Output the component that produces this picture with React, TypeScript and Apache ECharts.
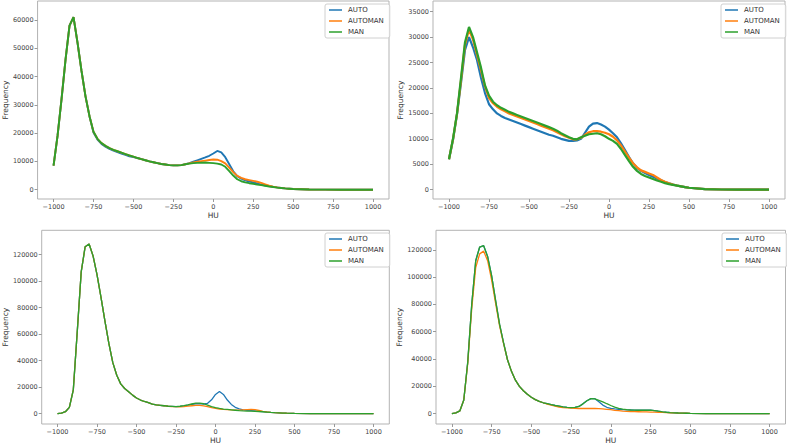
import React, { useEffect, useRef } from "react";
import * as echarts from "echarts";

// HU bin positions (shared by all panels)
const HU = [
  -1000, -975, -950, -925, -900, -875, -850, -825, -800, -775,
  -750, -725, -700, -675, -650, -625, -600, -575, -550, -525,
  -500, -475, -450, -425, -400, -375, -350, -325, -300, -275,
  -250, -225, -200, -175, -150, -125, -100, -75, -50, -25,
  0, 25, 50, 75, 100, 125, 150, 175, 200, 225,
  250, 275, 300, 325, 350, 375, 400, 425, 450, 475,
  500, 600, 700, 800, 900, 1000,
];

const X_TICKS = [-1000, -750, -500, -250, 0, 250, 500, 750, 1000];
const Y_TICKS_1 = [0, 10000, 20000, 30000, 40000, 50000, 60000];
const Y_TICKS_2 = [0, 5000, 10000, 15000, 20000, 25000, 30000, 35000];
const Y_TICKS_3 = [0, 20000, 40000, 60000, 80000, 100000, 120000];
const Y_TICKS_4 = [0, 20000, 40000, 60000, 80000, 100000, 120000];

const SERIES_NAMES = ["AUTO", "AUTOMAN", "MAN"];

// Panel 1 (top-left)
const p1Auto = [
  8500, 19000, 32000, 46000, 58000, 61000, 52000, 42000, 33000, 26000,
  20200, 17700, 16200, 15200, 14400, 13800, 13300, 12800, 12300, 11800,
  11500, 11200, 10800, 10400, 10000, 9700, 9400, 9100, 8900, 8700,
  8600, 8600, 8700, 9000, 9400, 9900, 10400, 10900, 11400, 12000,
  12800, 13700, 13200, 11500, 9000, 6500, 4800, 3900, 3300, 2900,
  2600, 2200, 1800, 1500, 1250, 1000, 800, 600, 450, 350,
  250, 80, 20, 5, 0, 0,
];
const p1Automan = [
  8500, 19000, 32000, 46000, 58000, 61000, 52000, 42000, 33000, 26000,
  20500, 18000, 16500, 15500, 14700, 14100, 13600, 13100, 12600, 12100,
  11700, 11200, 10800, 10400, 10000, 9700, 9400, 9100, 8900, 8700,
  8600, 8600, 8700, 9000, 9300, 9600, 9900, 10100, 10300, 10500,
  10700, 10600, 10100, 9300, 7800, 6200, 4900, 4200, 3700, 3400,
  3100, 2800, 2400, 1900, 1400, 1050, 800, 600, 450, 350,
  250, 80, 20, 5, 0, 0,
];
const p1Man = [
  8500, 19000, 32000, 46000, 58000, 61000, 52000, 42000, 33000, 26000,
  20500, 18000, 16500, 15500, 14700, 14100, 13600, 13100, 12600, 12100,
  11700, 11200, 10800, 10400, 10000, 9700, 9400, 9100, 8900, 8700,
  8600, 8600, 8700, 9000, 9200, 9400, 9500, 9550, 9600, 9500,
  9400, 9200, 8900, 8100, 6600, 5000, 3700, 3000, 2600, 2300,
  2100, 1800, 1600, 1400, 1150, 950, 750, 600, 450, 350,
  250, 80, 20, 5, 0, 0,
];

// Panel 2 (top-right)
const p2Auto = [
  6000, 9800, 14800, 21000, 27500, 30000, 28000, 25500, 22000, 19000,
  16800, 15800, 15000, 14500, 14100, 13800, 13500, 13200, 12900, 12600,
  12300, 12000, 11700, 11400, 11100, 10800, 10600, 10300, 10000, 9800,
  9600, 9600, 9700, 10000, 11200, 12400, 13000, 13100, 12800, 12400,
  11800, 11100, 10300, 9100, 7800, 6400, 5200, 4300, 3700, 3300,
  2900, 2550, 2200, 1850, 1500, 1250, 1000, 820, 650, 500,
  380, 120, 40, 10, 0, 0,
];
const p2Automan = [
  6000, 9900, 14900, 21500, 28500, 31500, 29500, 26500, 23500, 20300,
  18000, 17000, 16300, 15800, 15400, 15000, 14700, 14400, 14100, 13800,
  13500, 13200, 12900, 12600, 12300, 12000, 11700, 11300, 10900, 10500,
  10200, 9900, 9900, 10200, 10800, 11300, 11500, 11500, 11400, 11200,
  10900, 10400, 9700, 8700, 7500, 6300, 5200, 4400, 3800, 3500,
  3200, 2900, 2400, 1900, 1550, 1250, 1000, 820, 650, 500,
  380, 120, 40, 10, 0, 0,
];
const p2Man = [
  6000, 10000, 15000, 22000, 29000, 32000, 30000, 27000, 24000, 20500,
  18500, 17300, 16600, 16100, 15700, 15300, 15000, 14700, 14400, 14100,
  13800, 13500, 13200, 12900, 12600, 12300, 12000, 11600, 11100, 10700,
  10300, 10000, 9900, 10300, 10600, 10900, 11000, 11100, 10900, 10500,
  10000, 9600, 9000, 8000, 6800, 5600, 4500, 3700, 3100, 2700,
  2400, 2100, 1800, 1550, 1300, 1100, 950, 800, 650, 500,
  380, 120, 40, 10, 0, 0,
];

// Panel 3 (bottom-left)
const p3Auto = [
  0, 500, 1500, 4800, 18000, 62000, 107000, 126000, 128000, 119000,
  105000, 88000, 70000, 53000, 38500, 29000, 22500, 19000, 16500, 14000,
  11800, 10300, 9200, 8300, 7200, 6600, 6300, 6000, 5600, 5500,
  5400, 5500, 5900, 6400, 7000, 7500, 7600, 7300, 7800, 10500,
  14500, 16700, 14500, 10300, 7000, 4800, 3700, 2900, 2500, 2300,
  2100, 1800, 1500, 1200, 950, 750, 600, 450, 350, 280,
  220, 80, 30, 10, 0, 0,
];
const p3Automan = [
  0, 500, 1500, 4800, 18000, 62000, 107000, 126000, 128000, 119000,
  105000, 88000, 70000, 53000, 38500, 29000, 22500, 19000, 16500, 14000,
  11800, 10300, 9200, 8300, 7200, 6600, 6300, 6000, 5600, 5400,
  5300, 5200, 5400, 5700, 6000, 6300, 6300, 5900, 5300, 4500,
  4000, 3500, 3200, 3000, 2800, 2700, 2700, 2900, 3100, 3200,
  3000, 2400, 1800, 1300, 1000, 750, 600, 450, 350, 280,
  220, 80, 30, 10, 0, 0,
];
const p3Man = [
  0, 500, 1500, 4800, 18000, 62000, 107000, 126000, 128000, 119000,
  105000, 88000, 70000, 53000, 38500, 29000, 22500, 19000, 16500, 14000,
  11800, 10300, 9200, 8300, 7200, 6600, 6300, 6000, 5600, 5500,
  5400, 5600, 6000, 6600, 7300, 7900, 8000, 7500, 6500, 5300,
  4600, 4000, 3500, 3200, 2900, 2600, 2300, 2100, 2000, 1900,
  1800, 1650, 1450, 1200, 950, 750, 600, 450, 350, 280,
  220, 80, 30, 10, 0, 0,
];

// Panel 4 (bottom-right)
const p4Auto = [
  0, 600, 2000, 10000, 38000, 80000, 112000, 122000, 123000, 115000,
  101000, 83000, 65500, 52000, 39500, 31000, 24500, 20000, 16800, 14200,
  12000, 10300, 9000, 8000, 7300, 6600, 6000, 5500, 5000, 4600,
  4400, 4600, 5300, 7200, 9500, 11000, 11000, 8800, 6300, 4700,
  3900, 3500, 3200, 3000, 2800, 2700, 2600, 2500, 2500, 2500,
  2600, 2300, 1800, 1400, 1050, 800, 620, 500, 400, 330,
  270, 100, 40, 15, 0, 0,
];
const p4Automan = [
  0, 600, 2000, 10000, 37000, 77000, 107000, 117000, 119000, 112000,
  98000, 81000, 64500, 51500, 39500, 31000, 24500, 20000, 16800, 14200,
  12000, 10300, 9000, 8000, 7000, 6200, 5500, 4900, 4500, 4200,
  4000, 3900, 3800, 3800, 3800, 3800, 3800, 3700, 3500, 3200,
  2900, 2500, 2200, 1900, 1700, 1600, 1500, 1400, 1300, 1300,
  1200, 1100, 1000, 900, 800, 700, 580, 480, 400, 330,
  270, 100, 40, 15, 0, 0,
];
const p4Man = [
  0, 600, 2000, 10000, 38000, 80000, 112000, 122000, 123000, 115000,
  101000, 83000, 65500, 52000, 39500, 31000, 24500, 20000, 16800, 14200,
  12000, 10300, 9000, 8000, 7300, 6600, 6000, 5500, 5000, 4600,
  4400, 4600, 5300, 7200, 9500, 11000, 10800, 9800, 8700, 7300,
  6000, 4800, 3900, 3300, 2900, 2700, 2600, 2500, 2500, 2500,
  2600, 2300, 1800, 1400, 1050, 800, 620, 500, 400, 330,
  270, 100, 40, 15, 0, 0,
];

const COLORS = ["#1f77b4", "#ff7f0e", "#2ca02c"];
const FONT = "DejaVu Sans";

const PANELS = [
  {
    grid: { left: 36.3, top: 1, width: 352.7, height: 198 },
    yMin: -3290, yMax: 66725, yTicks: Y_TICKS_1,
    data: [p1Auto, p1Automan, p1Man],
    legend: { left: 325, top: 4 },
    yNameGap: 27, lineWidth: 1.9,
  },
  {
    grid: { left: 433, top: 1, width: 352, height: 198 },
    yMin: -1830, yMax: 37100, yTicks: Y_TICKS_2,
    data: [p2Auto, p2Automan, p2Man],
    legend: { left: 721, top: 4 },
    yNameGap: 25, lineWidth: 2.2,
  },
  {
    grid: { left: 39.8, top: 230.3, width: 349.5, height: 199 },
    yMin: -7785, yMax: 138360, yTicks: Y_TICKS_3,
    data: [p3Auto, p3Automan, p3Man],
    legend: { left: 325, top: 233 },
    yNameGap: 31, lineWidth: 1.3,
  },
  {
    grid: { left: 436, top: 230.3, width: 349.5, height: 199 },
    yMin: -7550, yMax: 134250, yTicks: Y_TICKS_4,
    data: [p4Auto, p4Automan, p4Man],
    legend: { left: 722, top: 233 },
    yNameGap: 31, lineWidth: 1.3,
  },
];

const fmt = (v: number) => (v < 0 ? "\u2212" + Math.abs(v) : String(v));

export default function App() {
  const ref = useRef<HTMLDivElement>(null);
  useEffect(() => {
    document.body.style.margin = "0";
    const chart = echarts.init(ref.current!, null, { renderer: "svg" });
    const grids: any[] = [];
    const xAxes: any[] = [];
    const yAxes: any[] = [];
    const legends: any[] = [];
    const series: any[] = [];
    PANELS.forEach((p, i) => {
      grids.push({ ...p.grid, show: true, borderColor: "#b3b3b3", borderWidth: 1, backgroundColor: "#fff" });
      xAxes.push({
        type: "value", gridIndex: i, min: -1100, max: 1100, position: "bottom",
        name: "HU", nameLocation: "middle", nameGap: 12,
        nameTextStyle: { fontSize: 7.5, color: "#333", fontFamily: FONT },
        axisLine: { show: false, onZero: false },
        axisTick: { show: true, length: 3, lineStyle: { color: "#999" }, customValues: X_TICKS },
        axisLabel: { fontSize: 6.5, color: "#444", fontFamily: FONT, margin: 4, customValues: X_TICKS, formatter: fmt },
        splitLine: { show: false },
      });
      yAxes.push({
        type: "value", gridIndex: i, min: p.yMin, max: p.yMax, position: "left",
        name: "Frequency", nameLocation: "middle", nameGap: p.yNameGap,
        nameTextStyle: { fontSize: 7.5, color: "#333", fontFamily: FONT },
        axisLine: { show: false, onZero: false },
        axisTick: { show: true, length: 3, lineStyle: { color: "#999" }, customValues: p.yTicks },
        axisLabel: { fontSize: 6.5, color: "#444", fontFamily: FONT, margin: 4, customValues: p.yTicks, formatter: fmt },
        splitLine: { show: false },
      });
      legends.push({
        data: SERIES_NAMES, orient: "vertical", left: p.legend.left, top: p.legend.top,
        icon: "rect", itemWidth: 13, itemHeight: 1.5, itemGap: 3,
        padding: [2, 6, 2, 4], borderColor: "#d0d0d0", borderWidth: 1, borderRadius: 2,
        backgroundColor: "rgba(255,255,255,0.85)", selectedMode: false,
        textStyle: { fontSize: 7, color: "#333", fontFamily: FONT, lineHeight: 8, padding: [0, 0, 0, 1] },
      });
      p.data.forEach((arr, k) => {
        series.push({
          name: SERIES_NAMES[k], type: "line", xAxisIndex: i, yAxisIndex: i,
          data: HU.map((x, j) => [x, arr[j]]),
          showSymbol: false, symbol: "none",
          lineStyle: { width: p.lineWidth, color: COLORS[k] },
          itemStyle: { color: COLORS[k] },
          z: 2 + k,
        });
      });
    });
    chart.setOption({
      animation: false,
      backgroundColor: "#fff",
      grid: grids, xAxis: xAxes, yAxis: yAxes, legend: legends, series,
    });
    return () => chart.dispose();
  }, []);
  return <div ref={ref} style={{ width: 787, height: 445 }} />;
}
